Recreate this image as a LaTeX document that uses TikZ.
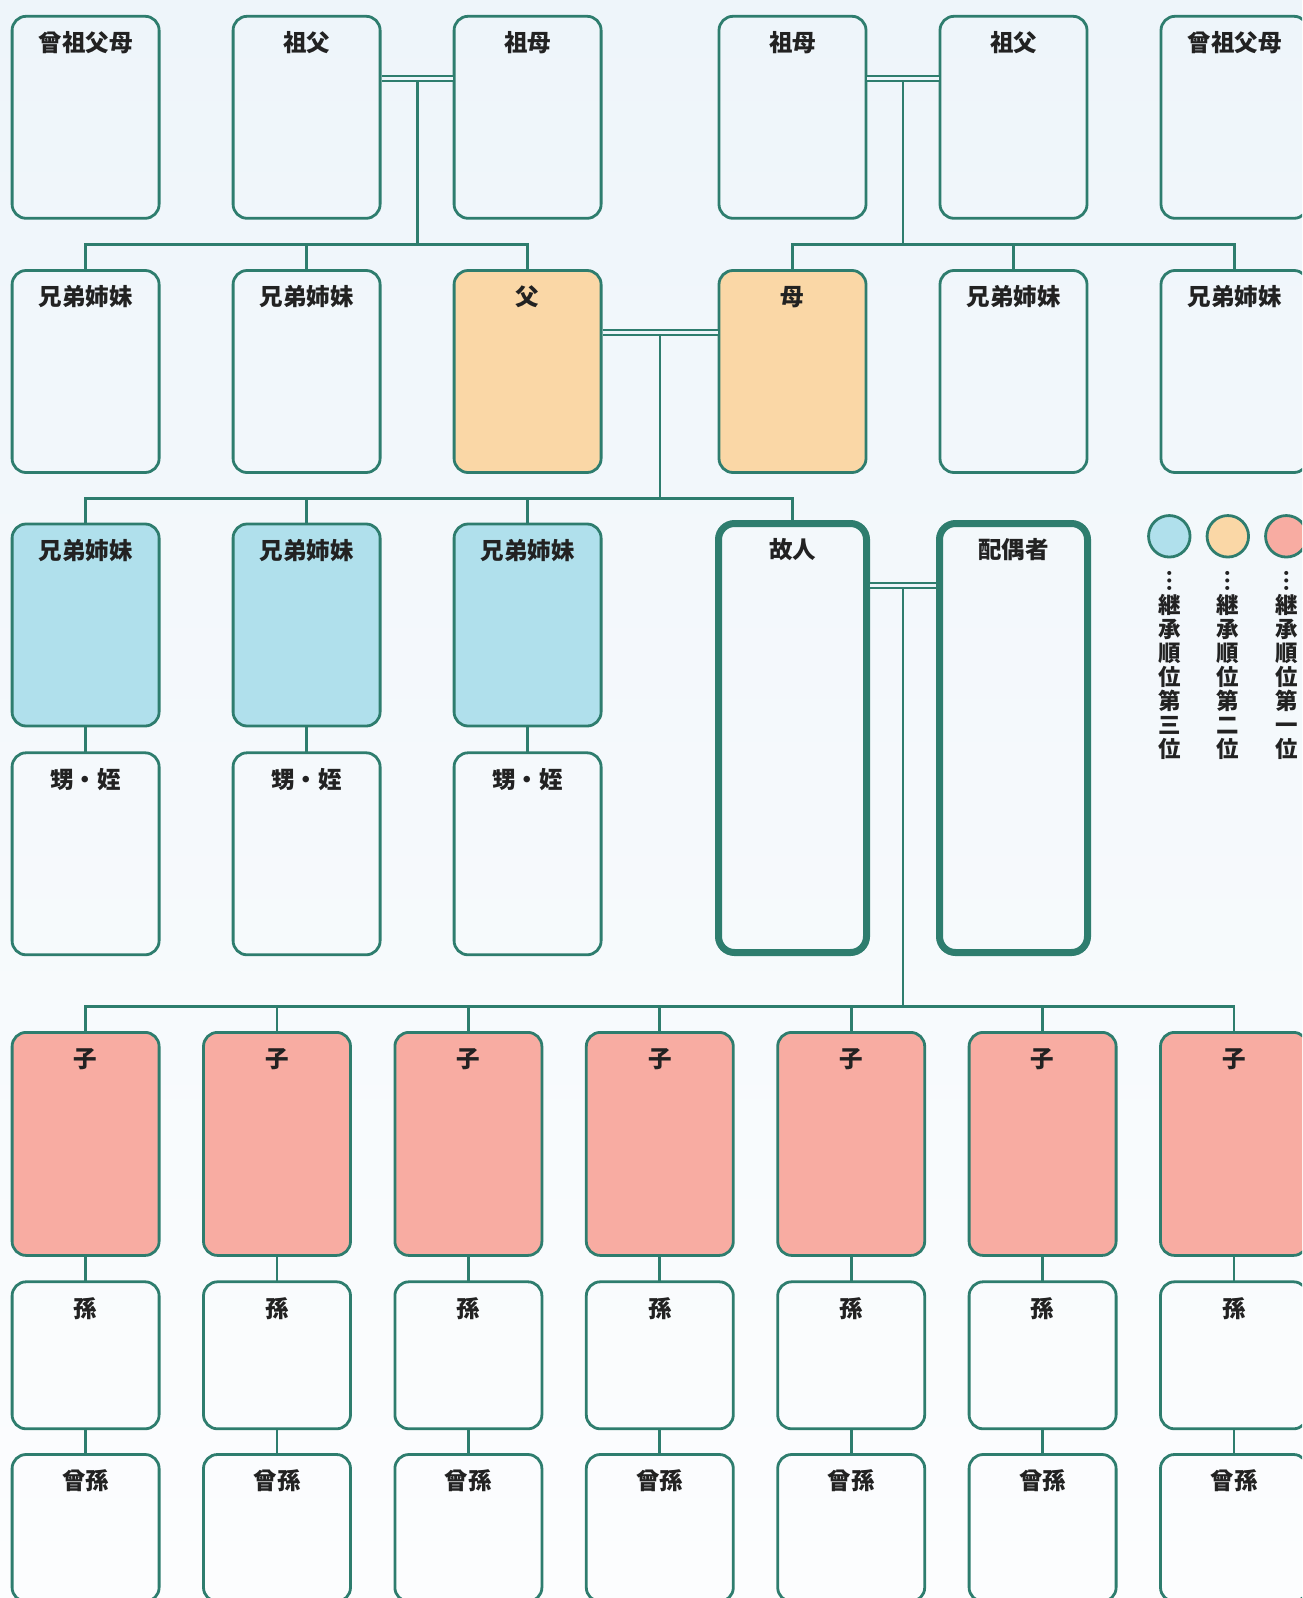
\documentclass[tikz,border=0pt]{standalone}
\usepackage{fontspec}
\newfontfamily\jp{Noto Sans CJK JP}
\usetikzlibrary{calc}

\definecolor{lineteal}{RGB}{46,125,110}
\definecolor{heirone}{RGB}{248,172,162}
\definecolor{heirtwo}{RGB}{250,215,166}
\definecolor{heirthree}{RGB}{176,224,236}
\definecolor{bgtop}{RGB}{238,245,250}
\definecolor{bgmid}{RGB}{241,247,251}
\definecolor{bgbottom}{RGB}{252,253,254}
\definecolor{inktext}{RGB}{34,34,34}

\begin{document}
\begin{tikzpicture}[x=1pt, y=-1pt,
    tagtext/.style={font=\jp\bfseries\fontsize{23.5pt}{24pt}\selectfont, text=inktext, inner sep=0pt, anchor=center, yshift=-26.5pt},
    person/.style={draw=lineteal, line width=2.8pt, rounded corners=14pt, minimum width=147pt, minimum height=202pt, inner sep=0pt, outer sep=0pt, label={[tagtext]north:#1}},
    core/.style={person=#1, line width=7pt, rounded corners=16pt, minimum width=148pt, minimum height=429pt},
    link/.style={draw=lineteal, line width=2.8pt},
    wedlock/.style={draw=lineteal, line width=2.5pt, double=bgtop, double distance=2.6pt, shorten <=#1, shorten >=#1},
    keydot/.style={circle, draw=lineteal, line width=2.8pt, minimum size=41.5pt, inner sep=0pt, outer sep=0pt},
    keytext/.style={font=\jp\bfseries\fontsize{22.5pt}{24pt}\selectfont, text=inktext, align=center, inner sep=0pt}
]
    % Page and background wash
    \useasboundingbox (0,0) rectangle (1302,1598);
    \clip (0,0) rectangle (1302,1598);
    \fill[top color=bgtop, middle color=bgmid, bottom color=bgbottom] (0,0) rectangle (1302,1598);

    % Row 1: grandparents
    \foreach \x/\name/\label in {85.6/ggl/曾祖父母, 306.6/gfl/祖父, 527.6/gml/祖母, 792.5/gmr/祖母, 1013.5/gfr/祖父, 1234.5/ggr/曾祖父母}
        \node[person=\label] (\name) at (\x,117.3) {};

    % Row 2: parents and their siblings
    \foreach \x/\name/\label in {85.6/sl1/兄弟姉妹, 306.6/sl2/兄弟姉妹, 1013.5/sr1/兄弟姉妹, 1234.5/sr2/兄弟姉妹}
        \node[person=\label] (\name) at (\x,371.5) {};
    \node[person=父, fill=heirtwo] (fa) at (527.6,371.5) {};
    \node[person=母, fill=heirtwo] (mo) at (792.5,371.5) {};

    % Row 3: siblings, deceased, spouse
    \foreach \i/\x in {1/85.6, 2/306.6, 3/527.6}
        \node[person=兄弟姉妹, fill=heirthree] (sib\i) at (\x,625) {};
    \node[core=故人] (dec) at (792.5,738) {};
    \node[core=配偶者] (sp) at (1013.5,738) {};

    % Row 4: nephews and nieces
    \foreach \i/\x in {1/85.6, 2/306.6, 3/527.6}
        \node[person=甥・姪] (nep\i) at (\x,853.8) {};

    % Rows 5-7: children, grandchildren, great-grandchildren
    \foreach \i in {1,...,7} {
        \node[person=子, fill=heirone, minimum height=223pt] (ch\i) at ({85.6+191.4*(\i-1)},1143.9) {};
        \node[person=孫, minimum height=147pt] (gc\i) at ({85.6+191.4*(\i-1)},1355.3) {};
        \node[person=曾孫, minimum height=147pt] (ggc\i) at ({85.6+191.4*(\i-1)},1528) {};
    }

    % Bus heights
    \coordinate (busA) at (0,244.5);
    \coordinate (busB) at (0,498.7);
    \coordinate (busC) at (0,1006.6);

    % Couples (double lines) and their drop points
    \path (gfl.north east) ++(0,62) coordinate (wl);
    \draw[wedlock=1.4pt] (wl) -- (wl -| gml.west);
    \coordinate (wdl) at ($(wl)!0.5!(wl -| gml.west)+(0,3)$);

    \path (gmr.north east) ++(0,62) coordinate (wr);
    \draw[wedlock=1.4pt] (wr) -- (wr -| gfr.west);
    \coordinate (wdr) at ($(wr)!0.5!(wr -| gfr.west)+(0,3)$);

    \path (fa.north east) ++(0,62) coordinate (wp);
    \draw[wedlock=1.4pt] (wp) -- (wp -| mo.west);
    \coordinate (wdp) at ($(wp)!0.5!(wp -| mo.west)+(0,3)$);

    \path (dec.north east) ++(0,62) coordinate (wc);
    \draw[wedlock=3.5pt] (wc) -- (wc -| sp.west);
    \coordinate (wdc) at ($(wc)!0.5!(wc -| sp.west)+(0,3)$);

    % Grandparents -> row 2
    \draw[link] (wdl) -- (wdl |- busA);
    \draw[link] (sl1.north) -- (sl1.north |- busA) -| (fa.north);
    \draw[link] (sl2.north) -- (sl2.north |- busA);
    \draw[link] (wdr) -- (wdr |- busA);
    \draw[link] (mo.north) -- (mo.north |- busA) -| (sr2.north);
    \draw[link] (sr1.north) -- (sr1.north |- busA);

    % Parents -> row 3
    \draw[link] (wdp) -- (wdp |- busB);
    \draw[link] (sib1.north) -- (sib1.north |- busB) -| (dec.north);
    \draw[link] (sib2.north) -- (sib2.north |- busB);
    \draw[link] (sib3.north) -- (sib3.north |- busB);
    \foreach \i in {1,2,3}
        \draw[link] (sib\i.south) -- (nep\i.north);

    % Deceased -> children and below
    \draw[link] (wdc) -- (wdc |- busC);
    \draw[link] (ch1.north) -- (ch1.north |- busC) -| (ch7.north);
    \foreach \i in {2,...,6}
        \draw[link] (ch\i.north) -- (ch\i.north |- busC);
    \foreach \i in {1,...,7} {
        \draw[link] (ch\i.south) -- (gc\i.north);
        \draw[link] (gc\i.south) -- (ggc\i.north);
    }

    % Legend
    \node[keydot, fill=heirthree] (key3) at (1169.3,536.3) {};
    \node[keydot, fill=heirtwo] (key2) at (1227.8,536.3) {};
    \node[keydot, fill=heirone] (key1) at (1286.3,536.3) {};
    \node[keytext] (key3txt) at ([yshift=-128.7pt]key3.center) {︙\\継\\承\\順\\位\\第\\三\\位};
    \node[keytext] (key2txt) at ([yshift=-128.7pt]key2.center) {︙\\継\\承\\順\\位\\第\\二\\位};
    \node[keytext] (key1txt) at ([yshift=-128.7pt]key1.center) {︙\\継\\承\\順\\位\\第\\一\\位};
\end{tikzpicture}
\end{document}
